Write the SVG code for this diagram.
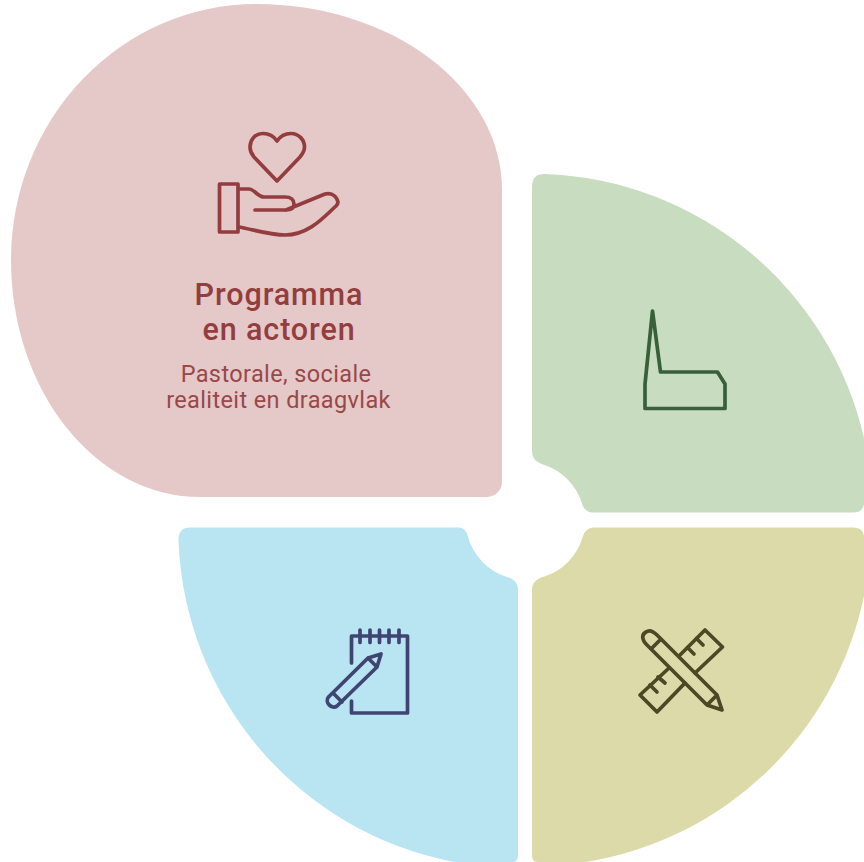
<svg xmlns="http://www.w3.org/2000/svg" width="864" height="862" viewBox="0 0 864 862">
<style>
.ic{fill:none;stroke-width:3.7;stroke-linejoin:round;stroke-linecap:round}
text{font-family:"Roboto","Liberation Sans",sans-serif;fill:#933d3f;text-anchor:middle}
.t{font-size:30.5px;font-weight:500;letter-spacing:.9px}
.s{font-size:23.5px;font-weight:400;letter-spacing:.38px;fill:#9a4749}
</style>
<rect width="864" height="862" fill="#fff"/>
<g id="node-programma">
<path fill="#e5c9c8" d="M502,190V482A15,15 0 0 1 487,497H200A189,237 0 0 1 11,260A245,256 0 0 1 256,4A246,186 0 0 1 502,190Z"/>
<g class="ic" stroke="#933d3f">
<path d="M277,141C273,135 268,133.500 263,133.500C255,133.500 250,140 250,147C250,151 251.500,154 254,157L277,181L300,157C302.500,154 304.500,151 304.500,147C304.500,140 299,133.500 291,133.500C286,133.500 281,135 277,141Z"/>
<rect x="219.500" y="184" width="18.500" height="48"/>
<path d="M239,189H249C254,189 258,197 264,197H285C291,197 294,200 294,204C294,208 291,210 286,210H255M286,210L325,194C332,192 337,197 338,202C338,204 337,205 336,206C325,216 309,235 285,235C270,235 255,230 239,227"/>
</g>
<text class="t" x="279" y="305">Programma</text>
<text class="t" x="279" y="340">en actoren</text>
<text class="s" x="276" y="381.500">Pastorale, sociale</text>
<text class="s" x="278.500" y="408">realiteit en draagvlak</text>
</g>
<g id="node-groen">
<path fill="#c8dcc0" d="M545,174A340,340 0 0 1 864,438V502Q864,512.500 853,512.500H593C587,512.500 584,509 582.500,505A59,59 0 0 0 543,464.500C536,462 532,458 532,451V187Q532,173.500 545,174Z"/>
<path class="ic" stroke="#386039" d="M652.500,311L645,384V408.500H725V384L717.500,372H660.500Z"/>
</g>
<g id="node-blauw">
<path fill="#b9e5f3" d="M190,527.500H458C463,527.500 466,530 467.500,535A59,59 0 0 0 507,577C514,579 518,583 518,590V855Q518,862 513,862H454A340,340 0 0 1 178.500,541Q178,527.500 190,527.500Z"/>
<g class="ic" stroke="#3f4570">
<path d="M351.500,663V636H407.500V713H351.500V701"/>
<path d="M360,630V642.500M370,630V642.500M379.500,630V642.500M389,630V642.500M399,630V642.500"/>
<path d="M368,658L381,654L377,667L337,706C332,710 324,702 328.500,697ZM368,658L377,667M333,693L342,702"/>
</g>
</g>
<g id="node-geel">
<path fill="#dddaaa" d="M853,527.500H595C589,527.500 585,530 583,536A59,59 0 0 1 543,577C536,579 532,583 532,590V855Q532,862 537,862H586A339,339 0 0 0 864,596V538Q864,527.500 853,527.500Z"/>
<g class="ic" stroke="#4d4725">
<path d="M680,655L705,630L722.500,647L695,673M669,668L640,695L657,712L685,683"/>
<path d="M696.500,638.500L703,645M687.500,647.500L694,654M658,677L665,683M650,685L657,692"/>
<path d="M657,635L717,695L722,710L707,705L647,645C641,639 642,634 646,632C650,629 654,632 657,635ZM717,695L707,705M651,649L661,639"/>
</g>
</g>
</svg>
